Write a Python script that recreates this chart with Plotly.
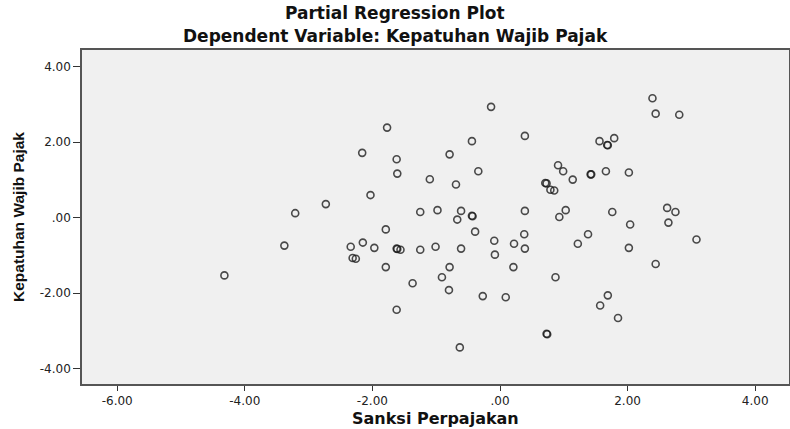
import plotly.graph_objects as go

# Partial regression residuals
sanksi = [
    -1.77, -2.16, -1.62, -1.61, -1.10, -2.03, -2.73, -3.21, -1.25, -1.79,
    -3.38, -2.34, -2.15, -1.97, -1.62, -1.61, -1.56, -1.25, -2.31, -2.26,
    -1.79, -4.32, -1.37, -1.62, -0.14, 2.39, 2.44, 2.81, 0.39, -0.44,
    1.56, 1.79, 1.68, 1.69, -0.79, 0.91, 0.99, -0.34, -0.69, 1.14,
    1.42, 1.43, 1.66, 2.02, 0.71, 0.73, 0.79, 0.85, -0.98, -0.61,
    -0.67, -0.44, -0.43, -0.39, 0.39, 0.38, 1.03, 0.93, 1.76, 2.04,
    2.62, 2.75, 2.64, 3.08, 1.38, -0.09, 0.22, 0.39, 1.22, 2.02,
    -1.01, -0.61, -0.08, -0.79, 0.21, 2.44, -0.91, -0.80, 0.87, -0.27,
    0.09, 1.69, 1.57, 1.85, 0.73, 0.74, -0.63,
]
kepatuhan = [
    2.39, 1.72, 1.55, 1.17, 1.02, 0.60, 0.36, 0.12, 0.15, -0.31,
    -0.74, -0.77, -0.66, -0.80, -0.82, -0.83, -0.85, -0.85, -1.07, -1.09,
    -1.31, -1.53, -1.74, -2.44, 2.94, 3.17, 2.76, 2.73, 2.17, 2.03,
    2.03, 2.11, 1.93, 1.92, 1.68, 1.39, 1.23, 1.23, 0.88, 1.01,
    1.15, 1.15, 1.23, 1.20, 0.92, 0.91, 0.74, 0.72, 0.20, 0.18,
    -0.05, 0.05, 0.04, -0.37, 0.18, -0.44, 0.20, 0.02, 0.15, -0.18,
    0.26, 0.15, -0.13, -0.58, -0.44, -0.61, -0.69, -0.82, -0.69, -0.80,
    -0.77, -0.82, -0.98, -1.31, -1.31, -1.23, -1.58, -1.92, -1.58, -2.08,
    -2.11, -2.06, -2.33, -2.66, -3.08, -3.09, -3.44,
]

tick_vals = [-6, -4, -2, 0, 2, 4]
x_tick_text = ["-6.00", "-4.00", "-2.00", ".00", "2.00", "4.00"]
y_tick_vals = [-4, -2, 0, 2, 4]
y_tick_text = ["-4.00", "-2.00", ".00", "2.00", "4.00"]

title_main = "Partial Regression Plot"
title_sub = "Dependent Variable: Kepatuhan Wajib Pajak"
x_title = "Sanksi Perpajakan"
y_title = "Kepatuhan Wajib Pajak"

fig = go.Figure()
fig.add_trace(go.Scatter(
    x=sanksi, y=kepatuhan, mode="markers",
    marker=dict(symbol="circle-open", size=7,
                line=dict(width=1.6, color="rgba(25,25,25,0.78)"),
                color="rgba(25,25,25,0.78)"),
    hoverinfo="x+y", showlegend=False,
))

W, H = 790, 429
L, R, T, B = 82, 1, 50, 45
pw, ph = W - L - R, H - T - B

def px_x(p):
    return (p - L) / pw

def px_y(p):
    return (H - B - p) / ph

tick_font = dict(family="DejaVu Sans", size=12, color="#222")
fig.update_layout(
    width=W, height=H,
    margin=dict(l=L, r=R, t=T, b=B, autoexpand=False),
    paper_bgcolor="white", plot_bgcolor="#f0f0f0",
    xaxis=dict(range=[-6.552, 4.530], tickvals=tick_vals, ticktext=x_tick_text,
               showgrid=False, zeroline=False, ticks="outside", ticklen=5,
               tickwidth=1.2, tickcolor="#333", tickfont=tick_font,
               showline=True, linecolor="#555", linewidth=1.5, mirror=True),
    yaxis=dict(range=[-4.411, 4.448], tickvals=y_tick_vals, ticktext=y_tick_text,
               showgrid=False, zeroline=False, ticks="outside", ticklen=7,
               tickwidth=1.2, tickcolor="#333", tickfont=tick_font,
               showline=True, linecolor="#555", linewidth=1.5, mirror=True),
    annotations=[
        dict(text=f"<b>{title_main}</b>", xref="paper", yref="paper",
             x=px_x(395), y=px_y(13), xanchor="center", yanchor="middle",
             showarrow=False, font=dict(family="DejaVu Sans", size=17, color="#111")),
        dict(text=f"<b>{title_sub}</b>", xref="paper", yref="paper",
             x=px_x(395), y=px_y(36), xanchor="center", yanchor="middle",
             showarrow=False, font=dict(family="DejaVu Sans", size=17, color="#111")),
        dict(text=f"<b>{x_title}</b>", xref="paper", yref="paper",
             x=px_x(435), y=px_y(418), xanchor="center", yanchor="middle",
             showarrow=False, font=dict(family="DejaVu Sans", size=16, color="#111")),
        dict(text=f"<b>{y_title}</b>", xref="paper", yref="paper",
             x=px_x(18), y=px_y(217), xanchor="center", yanchor="middle",
             textangle=-90, showarrow=False,
             font=dict(family="Liberation Sans Narrow, Liberation Sans", size=15.5, color="#111")),
    ],
)

# remove the default page margin so the figure fills the 790x429 window exactly
fig.write_html("out.html", config={"displayModeBar": False},
               post_script="document.body.style.margin='0px';")
